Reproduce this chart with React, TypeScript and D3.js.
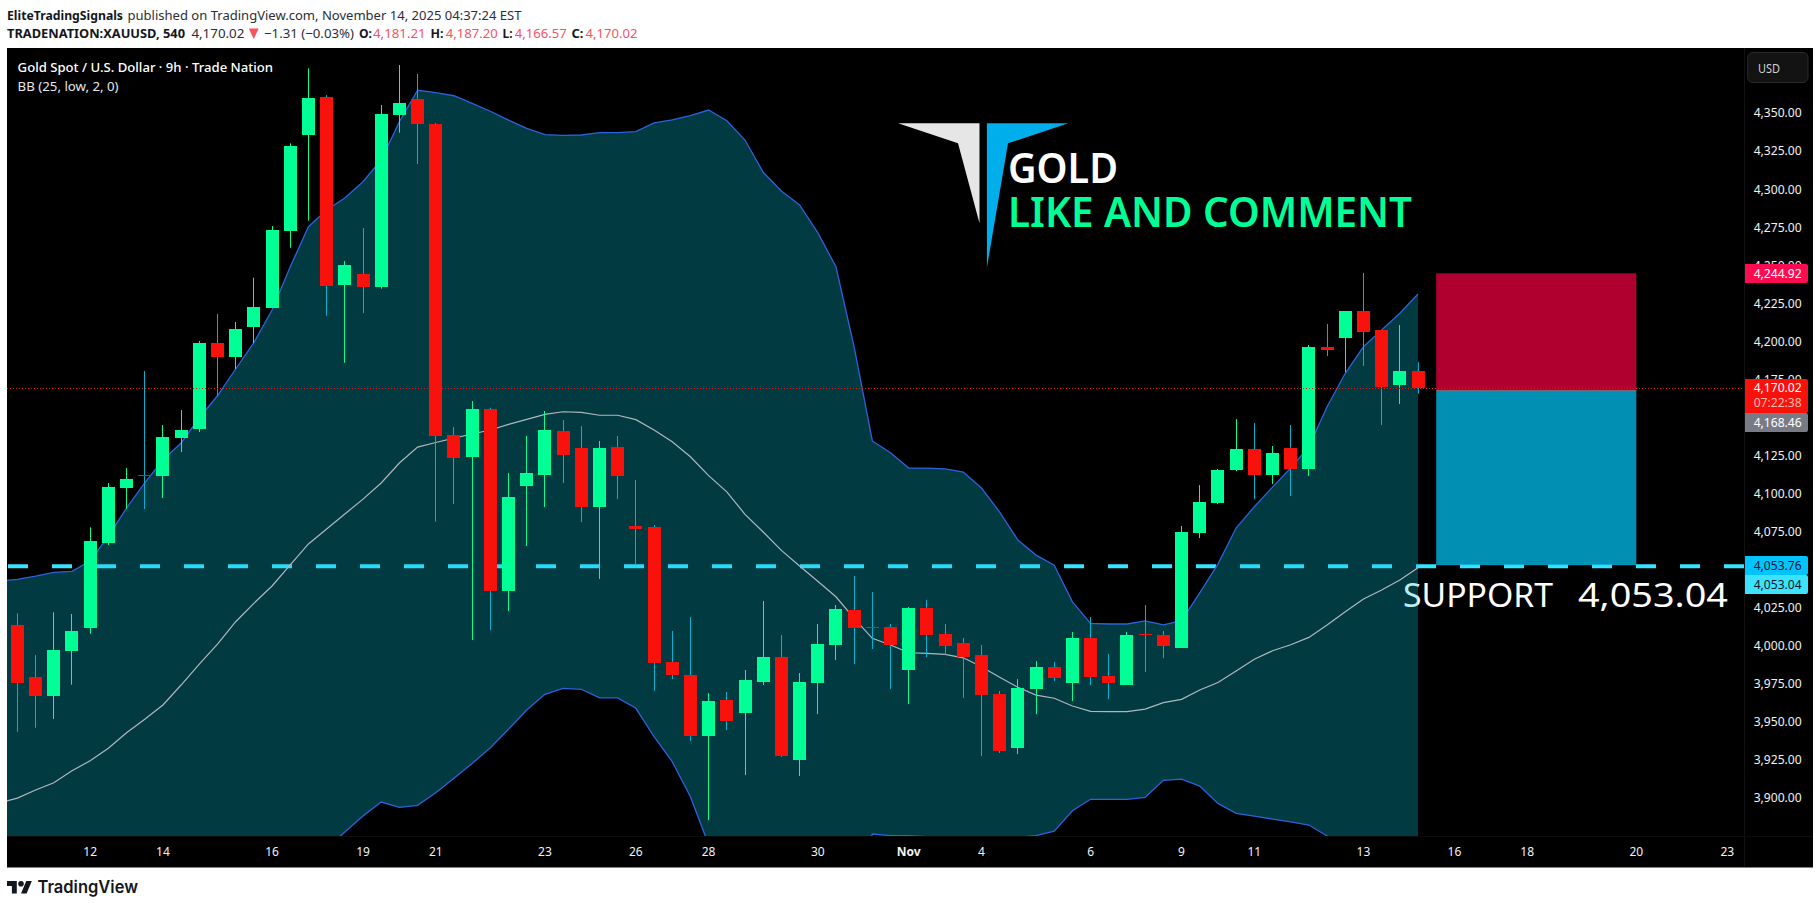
import React from "react";
import * as d3 from "d3";

const opens = [4014.4,3980.3,3968.0,3997.3,4012.7,4068.3,4104.5,4113.0,4112.4,4137.3,4143.3,4199.8,4190.6,4210.3,4222.8,4273.6,4336.5,4361.5,4237.9,4245.1,4236.8,4349.6,4360.1,4343.7,4139.3,4124.9,4156.4,4036.8,4105.8,4113.0,4141.9,4130.8,4092.0,4131.4,4079.5,4078.8,3990.1,3981.6,3941.5,3965.1,3956.6,3977.0,3993.4,3925.7,3976.3,4001.3,4024.3,4013.1,4013.1,3984.9,4025.6,4008.5,4002.6,3994.7,3969.1,3933.6,3972.4,3986.8,3976.3,4005.9,3980.9,3975.0,4008.5,4007.9,3999.3,4074.9,4094.6,4116.3,4130.1,4113.0,4130.8,4117.0,4197.1,4203.1,4220.8,4208.3,4172.2,4181.21];
const highs = [4022.1,3994.7,4022.8,4021.7,4078.6,4107.8,4117.6,4181.4,4145.9,4155.7,4201.1,4218.8,4213.6,4242.7,4276.7,4331.0,4380.3,4362.8,4253.7,4275.4,4356.2,4382.5,4376.6,4344.4,4144.6,4161.7,4157.1,4114.3,4138.7,4155.1,4149.2,4145.2,4135.4,4138.7,4109.7,4080.2,4010.5,4019.7,3969.7,3970.4,3984.9,4030.2,4007.9,3982.9,4015.1,4027.6,4046.6,4036.1,4015.1,4026.3,4030.9,4015.1,4005.9,4001.3,3971.1,3978.9,3990.8,3990.1,4009.8,4019.7,3995.4,4009.8,4027.6,4010.5,4079.5,4106.4,4117.0,4149.8,4147.2,4132.1,4145.9,4198.5,4212.3,4220.8,4245.8,4208.3,4211.6,4187.20];
const lows = [3944.3,3946.9,3952.7,3975.2,4008.7,4067.0,4090.7,4090.7,4097.9,4128.1,4141.3,4164.9,4182.7,4199.8,4222.8,4262.4,4280.2,4217.7,4186.8,4219.5,4235.5,4338.0,4317.4,4082.3,4094.0,4004.6,4011.1,4023.6,4066.4,4092.0,4107.8,4082.1,4044.7,4097.2,4053.9,3971.3,3978.9,3938.2,3886.3,3945.4,3915.8,3975.0,3927.7,3915.2,3955.9,3991.4,3988.8,3998.7,3972.4,3962.5,3993.4,3994.7,3966.5,3928.3,3930.3,3929.6,3955.9,3977.6,3964.5,3975.0,3965.8,3975.0,3983.5,3992.7,3999.3,4071.6,4094.0,4115.6,4097.2,4107.1,4099.2,4112.4,4191.2,4180.7,4184.7,4145.9,4159.7,4166.57];
const closes = [3976.5,3968.0,3998.0,4010.5,4069.6,4105.1,4110.4,4112.4,4138.0,4142.6,4199.8,4190.6,4209.0,4223.4,4274.0,4329.3,4360.8,4237.4,4251.0,4236.8,4350.3,4357.5,4343.7,4138.9,4124.2,4156.4,4036.8,4098.6,4114.3,4142.6,4126.2,4092.0,4130.8,4112.4,4077.5,3989.5,3981.6,3941.5,3964.5,3951.3,3978.3,3993.4,3928.3,3977.0,4001.9,4024.9,4012.5,4012.7,4001.3,4025.6,4007.9,4000.6,3993.4,3968.4,3931.6,3973.0,3986.8,3979.6,4005.9,3980.3,3976.3,4007.9,4007.9,4000.6,4075.6,4095.3,4116.3,4130.1,4113.0,4127.5,4117.0,4197.1,4195.2,4220.8,4207.0,4170.9,4181.4,4170.02];

// Bollinger bands: first entry belongs to the bar just left of the visible range
const bbUpper = [4043.3,4044.5,4046.6,4049.1,4049.7,4056.5,4072.9,4091.3,4107.8,4122.9,4134.1,4150.5,4165.1,4182.7,4200.0,4221.5,4249.9,4276.2,4287.2,4295.1,4305.8,4320.1,4345.2,4365.9,4364.3,4362.3,4357.3,4352.1,4346.3,4340.9,4336.7,4336.3,4336.5,4338.0,4338.0,4338.7,4344.4,4346.5,4349.2,4352.9,4345.9,4333.2,4312.0,4299.7,4290.5,4272.3,4249.9,4197.3,4135.4,4127.7,4117.6,4117.6,4117.0,4115.0,4104.5,4088.7,4070.3,4060.4,4053.7,4029.7,4015.5,4015.1,4015.1,4017.1,4014.6,4017.3,4035.5,4054.5,4078.2,4092.2,4105.1,4117.6,4131.6,4157.9,4179.9,4197.3,4208.3,4219.3,4232.0];
const bbBasis = [3897.4,3900.7,3906.0,3910.8,3918.7,3925.2,3933.4,3943.6,3952.5,3961.9,3975.0,3988.8,4001.9,4016.6,4028.7,4040.1,4053.9,4067.7,4077.5,4087.4,4097.2,4107.8,4120.9,4131.4,4134.4,4137.3,4140.0,4142.6,4146.3,4149.6,4152.9,4154.6,4154.2,4152.3,4152.3,4149.4,4142.6,4134.9,4125.0,4112.6,4102.0,4087.2,4075.6,4063.5,4053.2,4043.2,4033.0,4018.8,4005.7,4001.3,3996.2,3995.8,3995.2,3992.9,3987.0,3980.1,3973.5,3968.4,3966.3,3961.2,3957.7,3957.5,3957.5,3959.2,3963.4,3965.6,3971.7,3976.6,3984.2,3991.9,3997.5,4001.5,4006.3,4014.4,4023.2,4031.5,4037.4,4044.0,4052.1];
const bbLower = [3751.5,3756.9,3765.4,3772.5,3787.7,3793.9,3793.9,3795.9,3797.2,3800.9,3815.9,3827.1,3838.7,3850.5,3857.4,3858.7,3857.9,3859.2,3867.5,3878.4,3888.9,3898.1,3894.6,3895.9,3904.2,3913.7,3923.5,3933.8,3945.9,3958.6,3968.9,3972.8,3972.2,3966.5,3966.5,3959.7,3941.0,3924.6,3901.6,3870.0,3858.1,3841.2,3839.2,3827.3,3815.9,3814.1,3816.1,3840.0,3877.1,3876.0,3876.0,3875.4,3874.5,3873.0,3872.0,3872.0,3875.0,3876.0,3879.0,3892.4,3899.9,3899.9,3899.9,3901.2,3912.4,3913.2,3908.6,3897.2,3890.7,3888.9,3886.9,3885.0,3883.0,3875.8,3866.5,3865.7,3866.5,3868.7,3872.2];

const priceTicks = [4350,4325,4300,4275,4250,4225,4200,4175,4125,4100,4075,4025,4000,3975,3950,3925,3900];
const timeLabels = ["12","14","16","19","21","23","26","28","30","Nov","4","6","9","11","13","16","18","20","23"];
const timeBars = [4,8,14,19,23,29,34,38,44,49,53,59,64,68,74,79,83,89,94];

const LAST_PRICE = 4170.02;
const ENTRY = 4168.46;
const STOP = 4244.92;
const TARGET = 4053.76;
const SUPPORT = 4053.04;
const POS_START_BAR = 78;
const POS_END_BAR = 89;

const UI = "'Noto Sans', 'Open Sans', sans-serif";
const GREEN = "#00FF94";
const RED = "#F9120C";
const WICK_RED = "#00B3D1";

const x = d3.scaleLinear().domain([0, 100]).range([17.4, 17.4 + 1819]);
const y = d3.scaleLinear().domain([LAST_PRICE, LAST_PRICE - 100]).range([388.3, 388.3 + 152.15]);

const upperLine = d3.line<number>().x((_, i) => x(i - 1)).y((d) => y(d));
const lowerLine = d3.line<number>().x((_, i) => x(i - 1)).y((d) => y(d));
const bandArea = d3
  .area<number>()
  .x((_, i) => x(i - 1))
  .y0((_, i) => y(bbLower[i]))
  .y1((d) => y(d));

type LabelProps = { y0: number; y1: number; fill: string; text: string; color: string };
const PriceLabel = ({ y0, y1, fill, text, color }: LabelProps) => (
  <g>
    <path d={`M1745 ${y0}H1806a2 2 0 0 1 2 2V${y1 - 2}a2 2 0 0 1 -2 2H1745Z`} fill={fill} />
    <text x={1753.7} y={(y0 + y1) / 2 + 4.2} fontSize={12} fill={color} textLength={48} lengthAdjust="spacingAndGlyphs">
      {text}
    </text>
  </g>
);

const fmt = d3.format(",.2f");

export default function App() {
  const stopY = y(STOP);
  const entryY = y(ENTRY);
  const targetY = y(TARGET);
  return (
    <svg
      width={1820}
      height={908}
      viewBox="0 0 1820 908"
      style={{ position: "fixed", left: 0, top: 0, background: "#fff" }}
      fontFamily={UI}
    >
      <defs>
        <clipPath id="plot">
          <rect x={7} y={48} width={1737} height={788} />
        </clipPath>
      </defs>

      {/* header */}
      <text x={7} y={19.5} fontSize={13} fontWeight={700} fill="#131722" textLength={116} lengthAdjust="spacingAndGlyphs">
        EliteTradingSignals
      </text>
      <text x={127.5} y={19.5} fontSize={13} fill="#2a2e39" textLength={394} lengthAdjust="spacingAndGlyphs">
        published on TradingView.com, November 14, 2025 04:37:24 EST
      </text>
      <g fontSize={13}>
        <text x={7} y={38} fontWeight={700} fill="#131722" textLength={178} lengthAdjust="spacingAndGlyphs">
          TRADENATION:XAUUSD, 540
        </text>
        <text x={191.4} y={38} fill="#2a2e39" textLength={53} lengthAdjust="spacingAndGlyphs">4,170.02</text>
        <path d="M248.8 28.5H258.7L253.75 39Z" fill="#F7525F" />
        <text x={264} y={38} fill="#2a2e39" textLength={90} lengthAdjust="spacingAndGlyphs">−1.31 (−0.03%)</text>
        <text x={359} y={38} fontWeight={700} fill="#131722" textLength={13} lengthAdjust="spacingAndGlyphs">O:</text>
        <text x={373} y={38} fill="#F7525F" textLength={52.6} lengthAdjust="spacingAndGlyphs">4,181.21</text>
        <text x={430.5} y={38} fontWeight={700} fill="#131722" textLength={13} lengthAdjust="spacingAndGlyphs">H:</text>
        <text x={445.8} y={38} fill="#F7525F" textLength={52} lengthAdjust="spacingAndGlyphs">4,187.20</text>
        <text x={502.5} y={38} fontWeight={700} fill="#131722" textLength={10} lengthAdjust="spacingAndGlyphs">L:</text>
        <text x={514.7} y={38} fill="#F7525F" textLength={52} lengthAdjust="spacingAndGlyphs">4,166.57</text>
        <text x={571.4} y={38} fontWeight={700} fill="#131722" textLength={12} lengthAdjust="spacingAndGlyphs">C:</text>
        <text x={585.5} y={38} fill="#F7525F" textLength={52} lengthAdjust="spacingAndGlyphs">4,170.02</text>
      </g>

      {/* chart background */}
      <rect x={7} y={48} width={1806} height={819.5} fill="#000" />
      <line x1={1744.5} x2={1744.5} y1={48} y2={867} stroke="#111" />
      <line x1={7} x2={1813} y1={836.5} y2={836.5} stroke="#0c0c0c" />

      {/* support text sits under the band fill */}
      <text x={1403} y={606.7} fontSize={32.5} fill="#fff" textLength={150} lengthAdjust="spacingAndGlyphs">
        SUPPORT
      </text>
      <text x={1578} y={606.7} fontSize={32.5} fill="#fff" textLength={150} lengthAdjust="spacingAndGlyphs">
        4,053.04
      </text>

      <g clipPath="url(#plot)">
        {/* support line */}
        <line x1={8} x2={1744} y1={y(SUPPORT)} y2={y(SUPPORT)} stroke="#36E4FF" strokeWidth={4} strokeDasharray="20 24" />

        {/* short position */}
        <rect x={x(POS_START_BAR)} width={x(POS_END_BAR) - x(POS_START_BAR)} y={stopY - 1} height={entryY - stopY + 1} fill="rgba(220,0,59,0.8)" />
        <rect x={x(POS_START_BAR)} width={x(POS_END_BAR) - x(POS_START_BAR)} y={entryY} height={targetY - entryY} fill="rgba(2,179,225,0.8)" />
        <line x1={x(POS_START_BAR)} x2={x(POS_END_BAR)} y1={entryY} y2={entryY} stroke="#787B86" strokeWidth={1} />

        {/* Bollinger bands */}
        <path d={bandArea(bbUpper) ?? ""} fill="rgba(7,197,224,0.294)" />
        <path d={upperLine(bbBasis) ?? ""} fill="none" stroke="#B2B5BE" strokeWidth={1.2} />
        <path d={upperLine(bbUpper) ?? ""} fill="none" stroke="#2B63DC" strokeWidth={1.3} />
        <path d={lowerLine(bbLower) ?? ""} fill="none" stroke="#2B63DC" strokeWidth={1.3} />

        {/* candles */}
        {closes.map((c, i) => {
          const up = c >= opens[i];
          const left = Math.round(x(i) - 6.5);
          const top = Math.round(y(Math.max(opens[i], c)));
          const bottom = Math.round(y(Math.min(opens[i], c)));
          return (
            <g key={i}>
              <rect
                x={left + 6}
                width={1}
                y={y(highs[i])}
                height={y(lows[i]) - y(highs[i])}
                fill={up ? GREEN : WICK_RED}
              />
              <rect x={left} width={13} y={top} height={Math.max(1, bottom - top)} fill={up ? GREEN : RED} />
            </g>
          );
        })}

        {/* last price line */}
        <line x1={7} x2={1744} y1={388.5} y2={388.5} stroke={RED} strokeWidth={1} strokeDasharray="1 2" />
      </g>

      {/* legends */}
      <text x={17.6} y={72} fontSize={13} fontWeight={500} fill="#fff" textLength={255.5} lengthAdjust="spacingAndGlyphs">
        Gold Spot / U.S. Dollar · 9h · Trade Nation
      </text>
      <text x={17.6} y={91} fontSize={13} fill="#e8e8e8" textLength={101} lengthAdjust="spacingAndGlyphs">
        BB (25, low, 2, 0)
      </text>

      {/* logo */}
      <path d="M898.1 123.3H979.5V223.3L958 143.3Z" fill="#E6E6E6" />
      <path d="M986.9 123.3H1068.3L1008 143.3L986.9 267.7Z" fill="#00AEEB" />
      <text x={1008} y={183.3} fontSize={42} fontWeight={600} fill="#fff" textLength={110} lengthAdjust="spacingAndGlyphs">
        GOLD
      </text>
      <text x={1008} y={226.7} fontSize={42} fontWeight={600} fill={GREEN} textLength={404} lengthAdjust="spacingAndGlyphs">
        LIKE AND COMMENT
      </text>

      {/* price axis */}
      {priceTicks.map((p) => (
        <text key={p} x={1753.7} y={y(p) + 3} fontSize={12} fill="#f2f2f2" textLength={48} lengthAdjust="spacingAndGlyphs">
          {fmt(p)}
        </text>
      ))}
      <rect x={1747.7} y={52.5} width={60.3} height={30} rx={5} fill="#131313" stroke="#2a2a2a" strokeWidth={1} />
      <text x={1758} y={72.5} fontSize={12.5} fill="#d0d0d0" textLength={22} lengthAdjust="spacingAndGlyphs">USD</text>

      <PriceLabel y0={264} y1={283} fill="#FF0B50" text={fmt(STOP)} color="#fff" />
      <path d="M1745 379H1806a2 2 0 0 1 2 2V411a2 2 0 0 1 -2 2H1745Z" fill={RED} />
      <text x={1753.7} y={391.5} fontSize={12} fill="#fff" textLength={48} lengthAdjust="spacingAndGlyphs">{fmt(LAST_PRICE)}</text>
      <text x={1753.7} y={406.5} fontSize={12} fill="#FFB9AE" textLength={48} lengthAdjust="spacingAndGlyphs">07:22:38</text>
      <PriceLabel y0={413} y1={432} fill="#787B86" text={fmt(ENTRY)} color="#fff" />
      <PriceLabel y0={556} y1={575} fill="#00C3FF" text={fmt(TARGET)} color="#131722" />
      <PriceLabel y0={575} y1={594} fill="#3BE3FF" text={fmt(SUPPORT)} color="#131722" />

      {/* time axis */}
      {timeLabels.map((t, i) => (
        <text
          key={`${t}-${i}`}
          x={x(timeBars[i])}
          y={856}
          fontSize={12}
          fontWeight={t === "Nov" ? 700 : 400}
          textAnchor="middle"
          fill="#f2f2f2"
        >
          {t}
        </text>
      ))}

      {/* footer */}
      <g transform="translate(7 878.2) scale(0.7)" fill="#131722">
        <path d="M14 22H7V11H0V4h14v18zM28 22h-8l7.5-18h8L28 22z" />
        <circle cx={20} cy={8} r={4} />
      </g>
      <text x={37.5} y={893} fontFamily="Inter, 'Noto Sans', sans-serif" fontSize={17} fontWeight={600} fill="#131722" textLength={100.5} lengthAdjust="spacingAndGlyphs">
        TradingView
      </text>
    </svg>
  );
}
